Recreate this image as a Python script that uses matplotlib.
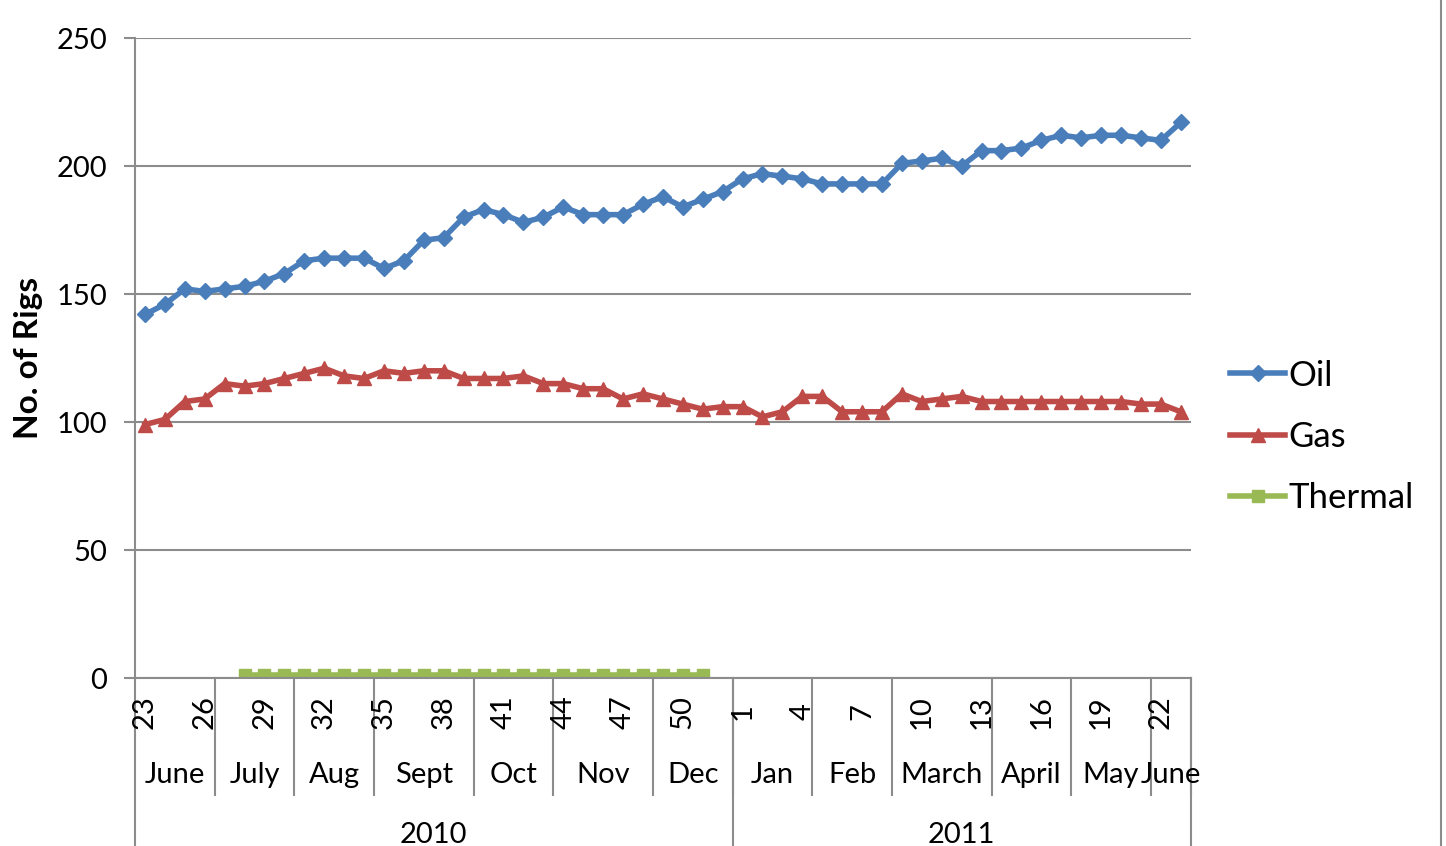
import numpy as np
import matplotlib
matplotlib.use("Agg")
import matplotlib.pyplot as plt
from matplotlib.lines import Line2D
import matplotlib.transforms as mtransforms

plt.rcParams['font.family'] = ['Lato', 'DejaVu Sans']

# week numbers (2010 wk 23 .. 2011 wk 23)
weeks = [23, 24, 25, 26, 27, 28, 29, 30, 31, 32, 33, 34, 35, 36, 37, 38, 39, 40,
         41, 42, 43, 44, 45, 46, 47, 48, 49, 50, 51, 52,
         1, 2, 3, 4, 5, 6, 7, 8, 9, 10, 11, 12, 13, 14, 15, 16, 17, 18, 19, 20,
         21, 22, 23]
months = ["June", "July", "Aug", "Sept", "Oct", "Nov", "Dec",
          "Jan", "Feb", "March", "April", "May", "June"]
month_weeks = [4, 4, 4, 5, 4, 5, 4, 4, 4, 5, 4, 4, 2]
years = ["2010", "2011"]
year_weeks = [30, 23]

oil = [142, 146, 152, 151, 152, 153, 155, 158, 163, 164, 164, 164, 160, 163,
       171, 172, 180, 183, 181, 178, 180, 184, 181, 181, 181, 185, 188, 184,
       187, 190, 195, 197, 196, 195, 193, 193, 193, 193, 201, 202, 203, 200,
       206, 206, 207, 210, 212, 211, 212, 212, 211, 210, 217]
gas = [99, 101, 108, 109, 115, 114, 115, 117, 119, 121, 118, 117, 120, 119,
       120, 120, 117, 117, 117, 118, 115, 115, 113, 113, 109, 111, 109, 107,
       105, 106, 106, 102, 104, 110, 110, 104, 104, 104, 111, 108, 109, 110,
       108, 108, 108, 108, 108, 108, 108, 108, 107, 107, 104]
thermal = [None] * 5 + [1] * 24 + [None] * 24

thermal = np.array([np.nan if v is None else v for v in thermal], dtype=float)
x = np.arange(len(weeks))

fig = plt.figure(figsize=(14.46, 8.46), dpi=100)
ax = fig.add_axes([135 / 1446, 1 - 678 / 846, 1055.7 / 1446, 640 / 846])

grey = "#8c8c8c"
fs = 21
ax.plot(x, oil, color="#4A7EBB", lw=4, marker="D", ms=8.5, label="Oil")
ax.plot(x, gas, color="#BE4B48", lw=4, marker="^", ms=10.5, label="Gas")
ax.plot(x, thermal, color="#98B954", lw=4, marker="s", ms=8.5, label="Thermal")

ax.set_xlim(-0.5, len(weeks) - 0.5)
ax.set_ylim(0, 250)
ax.set_yticks([0, 50, 100, 150, 200, 250])
ax.yaxis.grid(True, color=grey, lw=1.5)
ax.set_axisbelow(True)
ax.tick_params(axis="y", labelsize=fs, length=8, width=1.5, color=grey, pad=12)
ax.set_xticks([])
for s in ["top", "right"]:
    ax.spines[s].set_visible(False)
ax.spines["left"].set_color(grey)
ax.spines["left"].set_linewidth(1.5)
ax.spines["bottom"].set_color(grey)
ax.spines["bottom"].set_linewidth(1.5)
ax.set_ylabel("No. of Rigs", fontsize=24, fontweight="bold", labelpad=10)

trans = mtransforms.blended_transform_factory(ax.transData, ax.transAxes)

# week labels
for i, w in enumerate(weeks):
    if i % 3 == 0:
        ax.text(i, -0.053, str(w), transform=trans, rotation=90,
                ha="center", va="center", fontsize=fs)

# month labels and dividers
start = 0
for name, n in zip(months, month_weeks):
    ax.text(start + n / 2 - 0.5, -0.152, name, transform=trans,
            ha="center", va="center", fontsize=fs)
    start += n
    ax.add_line(Line2D([start - 0.5, start - 0.5], [0, -0.183], transform=trans,
                       color=grey, lw=1.5, clip_on=False))

# year labels and dividers
start = 0
ax.add_line(Line2D([-0.5, -0.5], [0, -0.3], transform=trans,
                   color=grey, lw=1.5, clip_on=False))
for name, n in zip(years, year_weeks):
    ax.text(start + n / 2 - 0.5, -0.245, name, transform=trans,
            ha="center", va="center", fontsize=fs)
    start += n
    ax.add_line(Line2D([start - 0.5, start - 0.5], [0, -0.3], transform=trans,
                       color=grey, lw=1.5, clip_on=False))

ax.legend(loc="center left", bbox_to_anchor=(1.037, 0.377), frameon=False,
          fontsize=25, handlelength=1.6, labelspacing=0.84, handletextpad=0.1,
          borderaxespad=0, borderpad=0)

fig.add_artist(Line2D([1441 / 1446, 1441 / 1446], [0, 1], color=grey, lw=1.5))

fig.savefig("out.png", dpi=100)
